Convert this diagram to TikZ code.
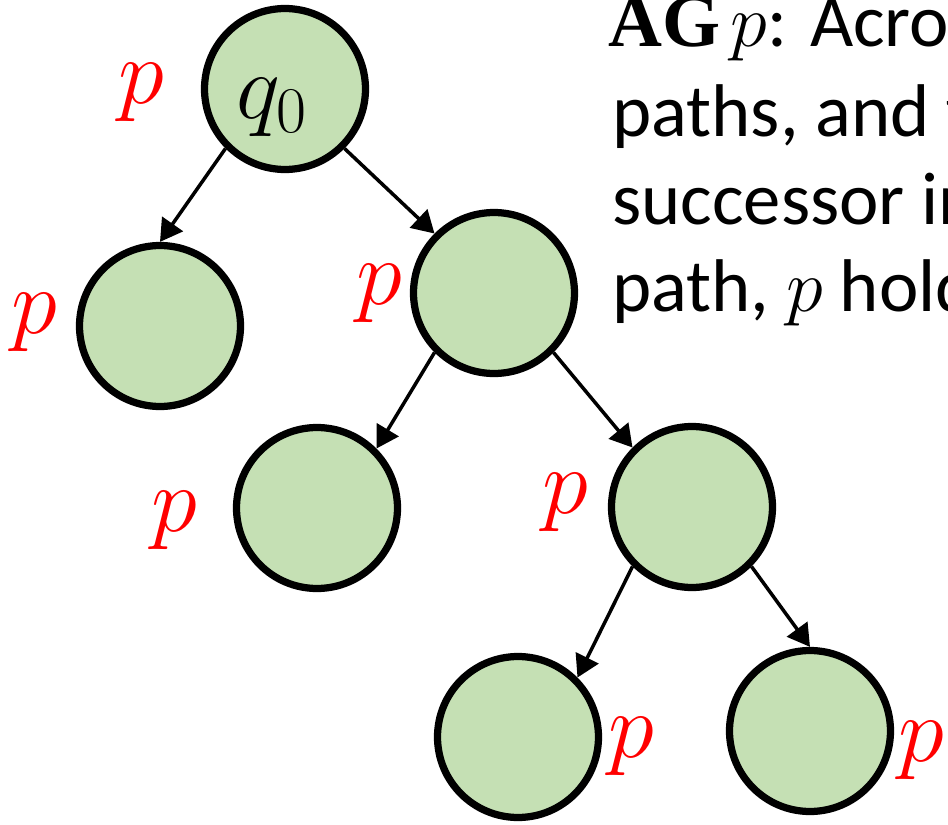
\documentclass[tikz,border=0pt]{standalone}
\usepackage{fix-cm}
\usepackage[no-math]{fontspec}
\setmainfont{Carlito}
\newfontfamily\opfont{Liberation Serif}
\usepackage{amsmath}
\usetikzlibrary{arrows.meta}
\definecolor{nodegreen}{RGB}{197,224,180}
\tikzset{
    mystate/.style={circle,draw=black,fill=nodegreen,line width=0.145cm,minimum size=3.22cm,inner sep=0pt},
    myarrow/.style={-{Triangle[length=0.44cm,width=0.5cm]},line width=0.07cm,draw=black},
    mylabel/.style={text=red,inner sep=0pt,font=\fontsize{53}{60}\selectfont},
    mytext/.style={anchor=base west,inner sep=0pt,font=\fontsize{42.5}{50}\selectfont}
}

\begin{document}
\begin{tikzpicture}[x=0.02cm,y=-0.02cm]
  \clip (0,0) rectangle (948,825);
  % tree of states
  \node[mystate] (q0) at (285,89) {};
  \node[mystate] (q1) at (160,326) {};
  \node[mystate] (q2) at (494,293) {};
  \node[mystate] (q3) at (317,508) {};
  \node[mystate] (q4) at (692,507) {};
  \node[mystate] (q5) at (518,737) {};
  \node[mystate] (q6) at (810,731) {};
  \node[inner sep=0pt,font=\fontsize{53}{60}\selectfont] (q0name) at (272,108) {$q_0$};
  \draw[myarrow] (q0.south west) -- (q1.north);
  \draw[myarrow] (q0.south east) -- (q2.north west);
  \draw[myarrow] (q2.south west) -- (q3.north east);
  \draw[myarrow] (q2.south east) -- (q4.north west);
  \draw[myarrow] (q4.south west) -- (q5.north east);
  \draw[myarrow] (q4.south east) -- (q6.north);
  % p holds everywhere
  \foreach \s/\x/\y in {q0/141/93,q1/34/323,q2/379/294,q3/174/521,q4/565/503,q5/631/747,q6/921/751}
    {\node[mylabel] (p\s) at (\x,\y) {$p$};}
  \node[mytext] (desc1) at (608,46) {{\opfont\bfseries AG}\kern6pt$p$: Across};
  \node[mytext] (desc2) at (612,136) {paths, and for};
  \node[mytext] (desc3) at (612,224) {successor in};
  \node[mytext] (desc4) at (612,311) {path, $p$ holds};
\end{tikzpicture}
\end{document}
